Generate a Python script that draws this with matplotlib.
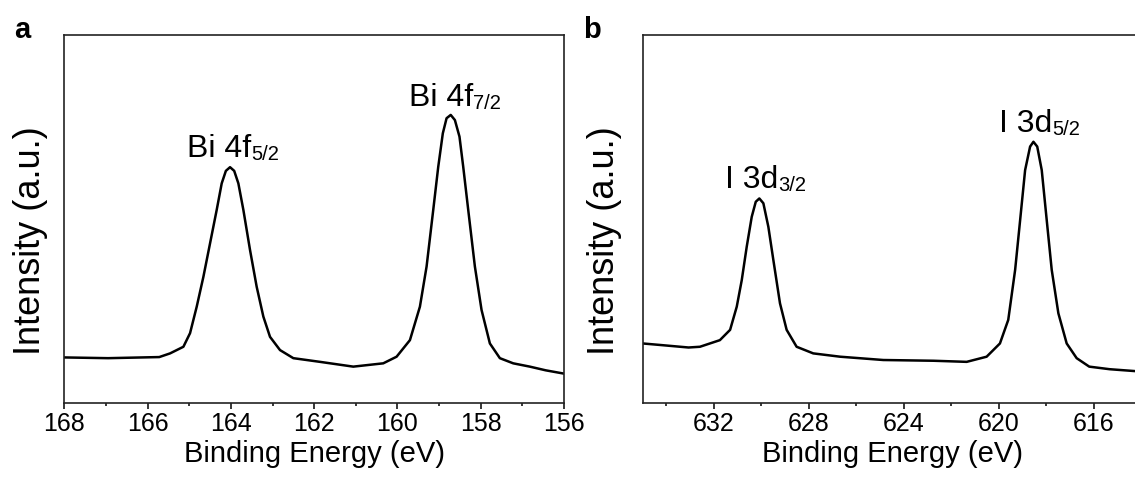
import matplotlib
matplotlib.use("Agg")
import matplotlib.pyplot as plt
from matplotlib.ticker import MultipleLocator

plt.rcParams['font.family'] = ['Liberation Sans', 'DejaVu Sans']

# ---- Panel a: Bi 4f ----
be_bi = [168.0, 166.95, 165.72, 165.46, 165.14, 164.98, 164.82, 164.66, 164.50,
         164.34, 164.22, 164.12, 164.02, 163.92, 163.82, 163.70, 163.54, 163.38,
         163.22, 163.06, 162.82, 162.50, 161.86, 161.06, 160.34, 160.02, 159.70,
         159.46, 159.30, 159.14, 159.02, 158.91, 158.82, 158.72, 158.62, 158.51,
         158.42, 158.30, 158.14, 157.98, 157.78, 157.54, 157.22, 156.82, 156.44,
         156.0]
int_bi = [12.3, 12.1, 12.4, 13.4, 15.2, 18.9, 26.1, 34.2, 43.3,
          52.4, 59.6, 63.0, 64.0, 63.0, 59.6, 52.4, 41.5, 31.5,
          23.4, 17.9, 14.3, 12.1, 11.1, 9.8, 10.7, 12.5, 17.0,
          26.1, 37.0, 52.4, 64.1, 73.2, 77.3, 78.2, 76.8, 72.3,
          64.1, 52.4, 37.0, 25.2, 16.1, 12.1, 10.7, 9.8, 8.8,
          7.9]

# ---- Panel b: I 3d ----
be_i = [635.0, 634.29, 633.07, 632.59, 631.75, 631.32, 631.04, 630.83, 630.62,
        630.41, 630.24, 630.09, 629.92, 629.71, 629.50, 629.22, 628.94, 628.52,
        627.82, 626.69, 624.87, 622.76, 621.36, 620.52, 619.96, 619.61, 619.32,
        619.11, 618.90, 618.69, 618.55, 618.39, 618.20, 617.99, 617.78, 617.50,
        617.15, 616.73, 616.2, 615.34, 614.3]
int_i = [16.1, 15.7, 15.0, 15.2, 17.0, 19.8, 26.1, 33.3, 42.4,
         50.5, 54.6, 55.5, 54.2, 47.8, 38.8, 27.0, 19.8, 15.2,
         13.4, 12.5, 11.6, 11.4, 11.1, 12.5, 16.1, 22.5, 36.1,
         49.6, 63.2, 69.6, 70.9, 69.6, 63.2, 49.6, 36.1, 24.3,
         16.1, 12.1, 9.8, 9.1, 8.6]

# tick values
ticks_a = [168, 166, 164, 162, 160, 158, 156]
ticks_b = [632, 628, 624, 620, 616]

# annotations: (main, sub, x, y)
ann_a = [("Bi 4f", "5/2", 165.06, 66.8), ("Bi 4f", "7/2", 159.72, 80.6)]
ann_b = [("I 3d", "3/2", 631.53, 58.3), ("I 3d", "5/2", 620.0, 73.6)]

W, H = 1135, 482
fig = plt.figure(figsize=(W / 100, H / 100), dpi=100)

def px_axes(l, r, t, b):
    return [l / W, 1 - b / H, (r - l) / W, (b - t) / H]

axa = fig.add_axes(px_axes(64.3, 564.0, 34.7, 402.7))
axb = fig.add_axes(px_axes(642.7, 1141.5, 34.7, 402.7))

def style(ax, be, inten, xlim, ticks, minor, anns, ylab_x):
    ax.plot(be, inten, color='black', lw=1.8, solid_joinstyle='round')
    ax.set_xlim(*xlim)
    ax.set_ylim(0, 100)
    ax.set_xticks(ticks)
    ax.xaxis.set_minor_locator(MultipleLocator(minor))
    ax.set_yticks([])
    ax.tick_params(axis='x', which='major', direction='out', length=4.5,
                   width=1.1, labelsize=18, pad=2.5, colors='black')
    ax.tick_params(axis='x', which='minor', direction='out', length=2.2,
                   width=1.1)
    for sp in ax.spines.values():
        sp.set_linewidth(1.2)
        sp.set_color('#222222')
    ax.set_xlabel("Binding Energy (eV)", fontsize=21, labelpad=2.5)
    for main, sub, x, y in anns:
        t = ax.text(x, y, main, fontsize=23, ha='left', va='baseline')
        ax.annotate(sub, xy=(1, 0), xycoords=t, fontsize=14.5,
                    ha='left', va='bottom')
    fig.text(ylab_x / W, 1 - 241 / H, "Intensity (a.u.)", fontsize=26,
             rotation=90, ha='center', va='center')

style(axa, be_bi, int_bi, (168, 156), ticks_a, 1, ann_a, 31)
style(axb, be_i, int_i, (635, 614), ticks_b, 2, ann_b, 604)

fig.text(14 / W, 1 - 38 / H, "a", fontsize=21, fontweight='bold',
         ha='left', va='baseline')
fig.text(583 / W, 1 - 38 / H, "b", fontsize=21, fontweight='bold',
         ha='left', va='baseline')

fig.savefig("out.png", dpi=100)
